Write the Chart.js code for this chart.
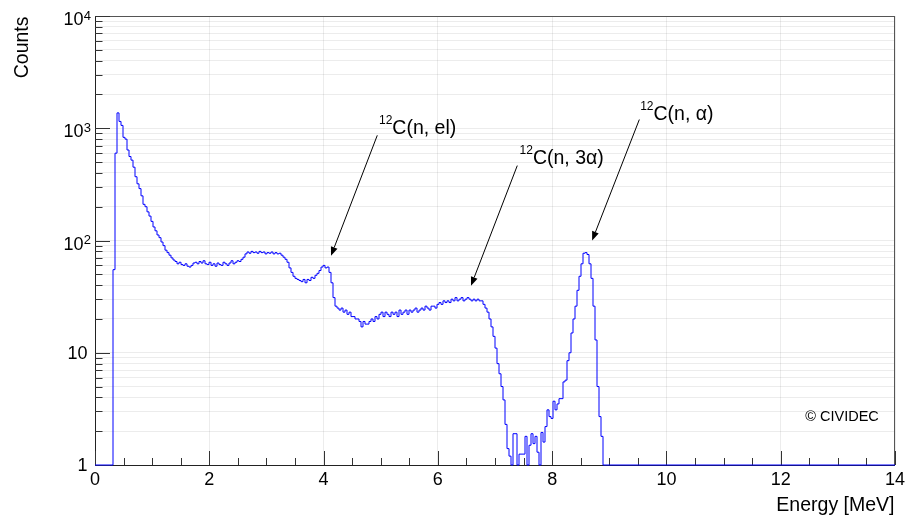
<!DOCTYPE html>
<html>
<head>
<meta charset="utf-8">
<script src="https://cdn.jsdelivr.net/npm/chart.js@4/dist/chart.umd.min.js"></script>
<style>html,body{margin:0;padding:0;background:#fff}canvas{display:block}</style>
</head>
<body>
<canvas id="c" width="905" height="517"></canvas>
<script>
// ---------------- data ----------------
const binWidth = 0.035;          // MeV per histogram bin
const firstBinEnergy = 0.28;     // left edge of first listed bin (MeV); bins outside the list are empty
const counts = [
  1, 55, 600, 1370, 1150, 1060, 830, 800, 640, 560, 520, 450, 370, 320, 290, 250, 210, 200, 180, 165,
  148, 132, 122, 112, 106, 97, 90, 82, 78, 74, 70, 67, 65,
  62, 64, 61, 60, 62, 59, 58, 60, 63, 64, 62, 65, 63, 66, 62, 61, 64, 60, 62, 59, 63, 61, 60, 64, 62, 60, 63, 66, 62, 64, 66, 65, 68,
  71, 76, 79, 77, 80, 78, 79, 77, 80, 78, 79, 76, 78, 77, 79, 76, 78, 76, 77, 74,
  71, 68, 64, 57, 52, 48, 46, 45, 44, 43, 45, 42, 45, 44, 47, 46, 49, 51, 54, 58, 60, 57, 58, 52,
  42, 31, 26, 25, 24, 25, 23, 24, 22, 23, 21, 21, 20, 20, 19, 17, 19, 18, 18, 19,
  20, 19, 21, 20, 22, 23, 21, 23, 22, 21, 23, 22, 23, 21, 24, 22, 23, 24, 22, 24, 23, 24, 25,
  23, 24, 25, 24, 26, 25, 24, 26, 26, 25, 27, 28, 27, 29, 28, 29, 28, 30, 29, 31,
  29, 30, 31, 29, 30, 31, 30, 29, 30, 29, 30, 29, 29, 27, 25, 23, 20, 17, 14, 11, 8,
  6.5, 5, 3.8, 2.3, 1.4, 1.2, 0, 1.9, 1.9, 0, 1.25, 1.25, 1.25, 1.8, 0, 1.5, 1.9, 1.55, 1.8, 1.3,
  0, 1.95, 1.6, 2.2, 3.1, 2.7, 2.6, 3.7, 3.1, 3.5, 3.9, 3.9, 5.5, 5.7, 8.5, 10, 15, 20, 26, 36,
  48, 62, 77, 78, 75, 62, 46, 26, 13, 5, 2.7, 1.8
];
const xRange = [0, 14];
const yRange = [1, 10000];
const xTickValues = [0, 2, 4, 6, 8, 10, 12, 14];
const xTickLabels = ['0', '2', '4', '6', '8', '10', '12', '14'];
const yTickValues = [1, 10, 100, 1000, 10000];
const yTickBases = ['1', '10', '10', '10', '10'];
const yTickExponents = ['', '', '2', '3', '4'];
const xTitle = 'Energy [MeV]';
const yTitle = 'Counts';
const isotope = '12';
const reactionLabels = ['C(n, el)', 'C(n, 3\u03b1)', 'C(n, \u03b1)'];
const creditText = '\u00a9 CIVIDEC';

// ---------------- layout (data coordinates) ----------------
const annotationLayout = [
  { text: [4.97, 891], tail: [4.94, 865], head: [4.13, 73] },
  { text: [7.43, 481], tail: [7.39, 465], head: [6.58, 39.5] },
  { text: [9.54, 1178], tail: [9.526, 1196], head: [8.70, 100] }
];
const creditPos = [12.43, 2.48];
const FONT = "'Liberation Sans', Arial, Helvetica, sans-serif";

// ---------------- build histogram points ----------------
const nBins = Math.round((xRange[1] - xRange[0]) / binWidth);
const startIdx = Math.round((firstBinEnergy - xRange[0]) / binWidth);
const points = [];
for (let i = 0; i < nBins; i++) {
  const k = i - startIdx;
  const c = (k >= 0 && k < counts.length) ? counts[k] : 0;
  points.push({ x: xRange[0] + i * binWidth, y: Math.max(c, yRange[0]) });
}
points.push({ x: xRange[1], y: points[points.length - 1].y });

// minor log ticks
const yGridValues = [];
for (let d = yRange[0]; d < yRange[1]; d *= 10) {
  for (let m = 1; m <= 9; m++) yGridValues.push(d * m);
}
yGridValues.push(yRange[1]);

function drawArrow(ctx, x1, y1, x2, y2) {
  const ang = Math.atan2(y2 - y1, x2 - x1);
  const L = 9, W = 3.5;
  const bx = x2 - L * Math.cos(ang), by = y2 - L * Math.sin(ang);
  ctx.beginPath();
  ctx.moveTo(x1, y1);
  ctx.lineTo(bx, by);
  ctx.stroke();
  ctx.beginPath();
  ctx.moveTo(x2, y2);
  ctx.lineTo(bx + W * Math.sin(ang), by - W * Math.cos(ang));
  ctx.lineTo(bx - W * Math.sin(ang), by + W * Math.cos(ang));
  ctx.closePath();
  ctx.fill();
}

const rootStyle = {
  id: 'rootStyle',
  beforeDatasetsDraw(chart) {
    const { ctx, chartArea: a, scales: { x, y } } = chart;
    ctx.save();
    // frame
    ctx.strokeStyle = '#555';
    ctx.lineWidth = 1;
    ctx.beginPath();
    ctx.moveTo(a.left, a.top + 0.5); ctx.lineTo(a.right, a.top + 0.5);
    ctx.moveTo(a.right - 0.5, a.top); ctx.lineTo(a.right - 0.5, a.bottom);
    ctx.stroke();
    ctx.strokeStyle = '#222';
    ctx.beginPath();
    ctx.moveTo(a.left + 0.5, a.top); ctx.lineTo(a.left + 0.5, a.bottom + 0.5);
    ctx.lineTo(a.right, a.bottom + 0.5);
    ctx.stroke();
    // ticks
    ctx.strokeStyle = '#333';
    ctx.beginPath();
    for (let v = xRange[0]; v <= xRange[1] + 1e-9; v += 0.5) {
      const px = Math.round(x.getPixelForValue(v)) + 0.5;
      const major = Math.abs(v / 2 - Math.round(v / 2)) < 1e-6;
      const len = major ? 14 : 7;
      ctx.moveTo(px, a.bottom);
      ctx.lineTo(px, a.bottom - len);
    }
    yGridValues.forEach(v => {
      const py = Math.round(y.getPixelForValue(v)) + 0.5;
      const major = yTickValues.includes(v);
      ctx.moveTo(a.left, py);
      ctx.lineTo(a.left + (major ? 15 : 7.5), py);
    });
    ctx.stroke();
    ctx.restore();
  },
  afterDraw(chart) {
    const { ctx, chartArea: a, scales: { x, y } } = chart;
    ctx.save();
    ctx.fillStyle = '#000';
    // x tick labels
    ctx.font = '18px ' + FONT;
    ctx.textAlign = 'center';
    ctx.textBaseline = 'alphabetic';
    xTickValues.forEach((v, i) => {
      ctx.fillText(xTickLabels[i], x.getPixelForValue(v), a.bottom + 19.5);
    });
    // y tick labels
    yTickValues.forEach((v, i) => {
      const py = y.getPixelForValue(v);
      if (yTickExponents[i]) {
        ctx.font = '18px ' + FONT;
        ctx.textAlign = 'right';
        ctx.fillText(yTickBases[i], 83.5, py + 9);
        ctx.font = '13px ' + FONT;
        ctx.textAlign = 'left';
        ctx.fillText(yTickExponents[i], 83.8, py + 3.5);
      } else {
        ctx.font = '18px ' + FONT;
        ctx.textAlign = 'right';
        ctx.fillText(yTickBases[i], 87.5, py + 6.3);
      }
    });
    // axis titles
    ctx.font = '19.5px ' + FONT;
    ctx.textAlign = 'right';
    ctx.fillText(xTitle, a.right - 0.5, 510.5);
    ctx.save();
    ctx.translate(28.3, a.top + 0.5);
    ctx.rotate(-Math.PI / 2);
    ctx.textAlign = 'right';
    ctx.fillText(yTitle, 0, 0);
    ctx.restore();
    // annotations
    ctx.strokeStyle = '#000';
    ctx.fillStyle = '#000';
    ctx.lineWidth = 1;
    annotationLayout.forEach((an, i) => {
      drawArrow(ctx,
        x.getPixelForValue(an.tail[0]), y.getPixelForValue(an.tail[1]),
        x.getPixelForValue(an.head[0]), y.getPixelForValue(an.head[1]));
      const tx = x.getPixelForValue(an.text[0]);
      const ty = y.getPixelForValue(an.text[1]);
      ctx.textAlign = 'left';
      ctx.font = '12px ' + FONT;
      ctx.fillText(isotope, tx, ty - 10);
      const w = ctx.measureText(isotope).width;
      ctx.font = '19.5px ' + FONT;
      ctx.fillText(reactionLabels[i], tx + w, ty);
    });
    // credit
    ctx.font = '14.5px ' + FONT;
    ctx.textAlign = 'left';
    ctx.fillText(creditText, x.getPixelForValue(creditPos[0]), y.getPixelForValue(creditPos[1]));
    ctx.restore();
  }
};

const gridColor = 'rgba(0,0,0,0.075)';
new Chart(document.getElementById('c'), {
  type: 'line',
  data: {
    datasets: [{
      data: points,
      borderColor: '#0000ff',
      borderWidth: 1,
      pointRadius: 0,
      stepped: 'before',
      fill: false,
      clip: false
    }]
  },
  options: {
    responsive: false,
    devicePixelRatio: 1,
    animation: false,
    events: [],
    layout: { padding: { left: 95, right: 10, top: 16, bottom: 52 } },
    plugins: { legend: { display: false }, tooltip: { enabled: false } },
    scales: {
      x: {
        type: 'linear', min: xRange[0], max: xRange[1],
        ticks: { display: false, stepSize: 2 },
        afterBuildTicks: s => { s.ticks = xTickValues.map(v => ({ value: v })); },
        grid: { color: gridColor, drawTicks: false },
        border: { display: false }
      },
      y: {
        type: 'logarithmic', min: yRange[0], max: yRange[1],
        ticks: { display: false },
        afterBuildTicks: s => { s.ticks = yGridValues.map(v => ({ value: v })); },
        grid: { color: gridColor, drawTicks: false },
        border: { display: false }
      }
    }
  },
  plugins: [rootStyle]
});
</script>
</body>
</html>
